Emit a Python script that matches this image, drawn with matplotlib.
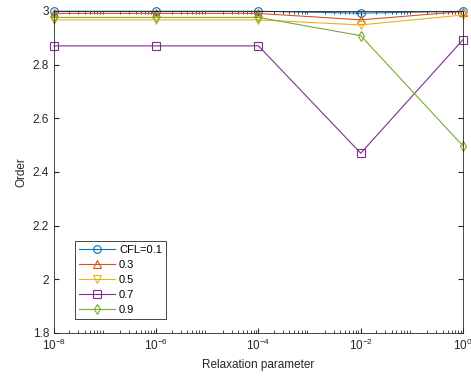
import numpy as np
import matplotlib.pyplot as plt

plt.rcParams['font.family'] = ['Liberation Sans', 'DejaVu Sans']

relax = np.array([1e-8, 1e-6, 1e-4, 1e-2, 1e0])
order_01 = [2.999, 2.999, 2.999, 2.992, 2.999]
order_03 = [2.991, 2.991, 2.991, 2.967, 2.998]
order_05 = [2.967, 2.967, 2.967, 2.948, 2.985]
order_07 = [2.870, 2.870, 2.870, 2.470, 2.893]
order_09 = [2.976, 2.976, 2.976, 2.908, 2.497]
labels = ["CFL=0.1", "0.3", "0.5", "0.7", "0.9"]

colors = [(0, 0.447, 0.741), (0.85, 0.325, 0.098), (0.929, 0.694, 0.125),
          (0.494, 0.184, 0.556), (0.466, 0.674, 0.188)]
markers = ["o", "^", "v", "s", "d"]

fig = plt.figure(figsize=(4.71, 3.79), dpi=100)
ax = fig.add_axes([0.1146, 0.1214, 0.8684, 0.8496])

for y, lab, c, m in zip([order_01, order_03, order_05, order_07, order_09],
                        labels, colors, markers):
    ax.plot(relax, y, color=c, marker=m, markerfacecolor="none",
            markersize=5.5, markeredgewidth=0.8, linewidth=0.8, label=lab,
            clip_on=False)

ax.set_xscale("log")
ax.set_xlim(1e-8, 1)
ax.set_ylim(1.8, 3)
ax.set_xticks([1e-8, 1e-6, 1e-4, 1e-2, 1e0])
ax.set_yticks([1.8, 2, 2.2, 2.4, 2.6, 2.8, 3])
ax.set_yticklabels(["1.8", "2", "2.2", "2.4", "2.6", "2.8", "3"])
ax.tick_params(which="both", direction="in", top=True, right=True,
               labelsize=8.5, colors="#262626")
ax.tick_params(which="major", length=3.5)
ax.tick_params(which="minor", length=2)
for s in ax.spines.values():
    s.set_linewidth(0.6)
    s.set_color("#262626")

ax.set_xlabel("Relaxation parameter", fontsize=8.5, color="#262626")
ax.set_ylabel("Order", fontsize=8.5, color="#262626")

leg = ax.legend(loc="lower left", bbox_to_anchor=(0.045, 0.035), fontsize=8,
                fancybox=False, edgecolor="#262626", framealpha=1,
                handlelength=3.2, borderpad=0.4, labelspacing=0.45,
                handletextpad=0.4, borderaxespad=0.2)
leg.get_frame().set_linewidth(0.6)

fig.savefig("out.png", dpi=100)
